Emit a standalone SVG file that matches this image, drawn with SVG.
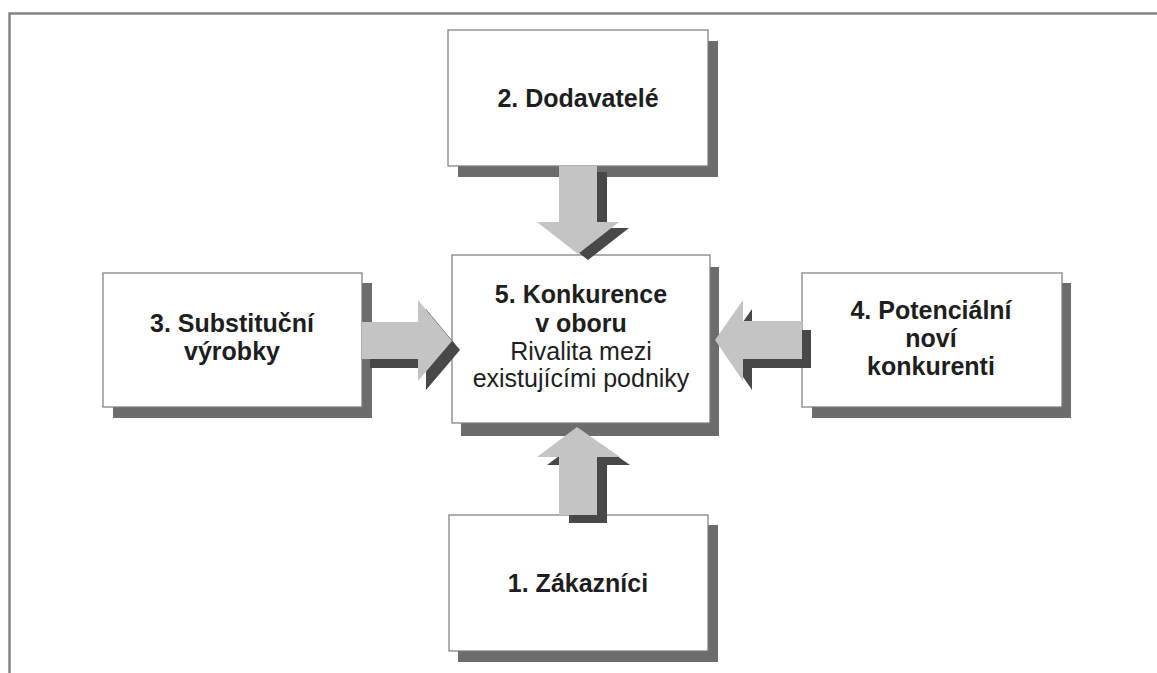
<svg xmlns="http://www.w3.org/2000/svg" width="1157" height="673" viewBox="0 0 1157 673">
<style>
.box{fill:#ffffff;stroke:#7a7a7a;stroke-width:1.2}
.shd{fill:#6c6c6c}
.arr{fill:#c4c4c4}
.ashd{fill:#484848}
.t{font-family:"Liberation Sans",Arial,sans-serif;font-size:25px;fill:#1e1e1e;text-anchor:middle}
.b{font-weight:bold}
</style>
<rect width="1157" height="673" fill="#ffffff"/>
<path d="M9.5 673 V13.5 H1157" fill="none" stroke="#858585" stroke-width="2.5"/>
<g id="n2">
<rect class="shd" x="458" y="41" width="260" height="136"/>
<rect class="box" x="448" y="30" width="260" height="136"/>
<text class="t b" x="578" y="107">2. Dodavatelé</text>
</g>
<g id="n5">
<rect class="shd" x="461" y="267" width="258" height="169"/>
<rect class="box" x="452" y="255" width="258" height="168"/>
<text class="t b" x="581" y="303">5. Konkurence</text>
<text class="t b" x="581" y="332">v oboru</text>
<text class="t" x="581" y="360">Rivalita mezi</text>
<text class="t" x="581" y="387">existujícími podniky</text>
</g>
<g id="n3">
<rect class="shd" x="113" y="283" width="259" height="135"/>
<rect class="box" x="103" y="273" width="259" height="134"/>
<text class="t b" x="232" y="332">3. Substituční</text>
<text class="t b" x="232" y="360">výrobky</text>
</g>
<g id="n4">
<rect class="shd" x="812" y="283" width="259" height="135"/>
<rect class="box" x="802" y="273" width="260" height="134"/>
<text class="t b" x="931" y="319">4. Potenciální</text>
<text class="t b" x="931" y="347">noví</text>
<text class="t b" x="931" y="375">konkurenti</text>
</g>
<g id="n1">
<rect class="shd" x="458" y="525" width="260" height="137"/>
<rect class="box" x="449" y="515" width="259" height="136"/>
<text class="t b" x="578" y="592">1. Zákazníci</text>
</g>
<g id="connectors">
<g id="a-down">
<path class="ashd" transform="translate(10,6)" d="M559 166 H597 V222 H619 L578 254 L537 222 H559 Z"/>
<path class="arr" d="M559 166 H597 V222 H619 L578 254 L537 222 H559 Z"/>
</g>
<g id="a-up">
<path class="ashd" transform="translate(10,8)" d="M559 515 H597 V457 H620 L577 427 L537 457 H559 Z"/>
<path class="arr" d="M559 515 H597 V457 H620 L577 427 L537 457 H559 Z"/>
</g>
<g id="a-right">
<path class="ashd" transform="translate(8,9)" d="M362 322 H418 V300 L452 341 L418 381 V359 H362 Z"/>
<path class="arr" d="M362 322 H418 V300 L452 341 L418 381 V359 H362 Z"/>
</g>
<g id="a-left">
<path class="ashd" transform="translate(9,9)" d="M802 321 H743 V300 L715 340 L743 381 V359 H802 Z"/>
<path class="arr" d="M802 321 H743 V300 L715 340 L743 381 V359 H802 Z"/>
</g>
</g>
</svg>
